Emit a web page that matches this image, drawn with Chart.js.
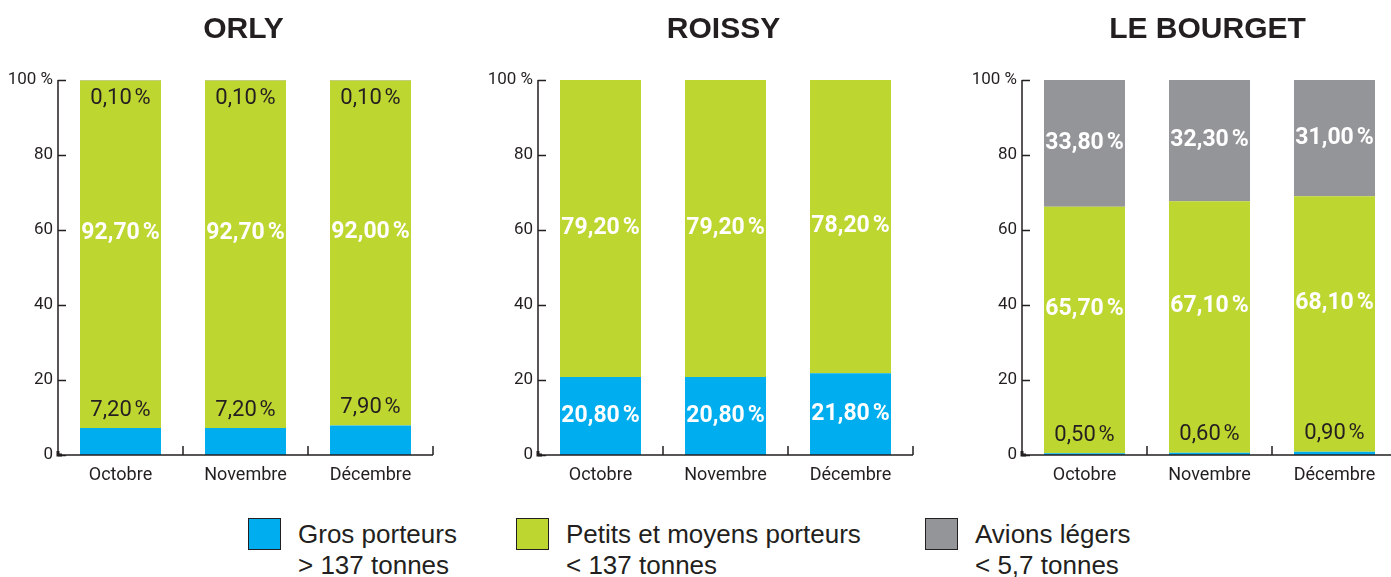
<!DOCTYPE html>
<html>
<head>
<meta charset="utf-8">
<script src="https://cdn.jsdelivr.net/npm/chart.js@4/dist/chart.umd.min.js"></script>
<style>
  html, body { margin: 0; padding: 0; background: #fff; overflow: hidden; }
  body { width: 1391px; height: 577px; position: relative; }
  .panel { position: absolute; top: 0; width: 453px; height: 500px; }
  .legend { position: absolute; top: 518px; font-family: "Liberation Sans", Arial, sans-serif; font-size: 26px; color: #231f20; line-height: 31px; }
  .legend .box { position: absolute; left: 0; top: 0; width: 31px; height: 30px; border: 1.5px solid #231f20; }
  .legend .txt { position: absolute; left: 50px; top: 1px; white-space: nowrap; }
</style>
</head>
<body>
<div class="panel" style="left:0px"><canvas id="orly"></canvas></div>
<div class="panel" style="left:480px"><canvas id="roissy"></canvas></div>
<div class="panel" style="left:964px"><canvas id="bourget"></canvas></div>
<div id="legend"></div>

<script>
// data
const months = ['Octobre', 'Novembre', 'Décembre'];
const seriesNames = ['Gros porteurs', 'Petits et moyens porteurs', 'Avions légers'];
const seriesNotes = ['> 137 tonnes', '< 137 tonnes', '< 5,7 tonnes'];
const seriesColors = ['#00aeef', '#bed630', '#939598'];
const yTickLabels = ['0', '20', '40', '60', '80', '100 %'];

const orlyGros = [7.2, 7.2, 7.9];
const orlyPetits = [92.7, 92.7, 92.0];
const orlyLegers = [0.1, 0.1, 0.1];

const roissyGros = [20.8, 20.8, 21.8];
const roissyPetits = [79.2, 79.2, 78.2];
const roissyLegers = [0, 0, 0];

const bourgetGros = [0.5, 0.6, 0.9];
const bourgetPetits = [65.7, 67.1, 68.1];
const bourgetLegers = [33.8, 32.3, 31.0];

const INK = '#231f20';
const NARROW = 'Roboto, "Liberation Sans", sans-serif';

function fmt(v) {
  return v.toFixed(2).replace('.', ',') + '\u202f%';
}

// title + axis ticks + value labels
const panelPlugin = {
  id: 'panelPlugin',
  afterDraw(chart) {
    const ctx = chart.ctx;
    const area = chart.chartArea;
    const x = chart.scales.x, y = chart.scales.y;
    ctx.save();

    // title
    ctx.fillStyle = INK;
    ctx.font = 'bold 30px "Liberation Sans", Arial, sans-serif';
    ctx.textAlign = 'center';
    ctx.textBaseline = 'alphabetic';
    ctx.fillText(chart.options.plugins.panelTitle, (area.left + area.right) / 2 - 2, 38);

    // axes
    ctx.strokeStyle = INK;
    ctx.lineWidth = 1.5;
    ctx.beginPath();
    ctx.moveTo(area.left, area.top);
    ctx.lineTo(area.left, area.bottom);
    ctx.lineTo(area.right, area.bottom);
    y.ticks.forEach(t => {
      const py = Math.round(y.getPixelForValue(t.value)) + 0.5;
      ctx.moveTo(area.left, py);
      ctx.lineTo(area.left + 8, py);
    });
    const step = (x.getPixelForValue(1) - x.getPixelForValue(0));
    for (let i = 0; i < months.length; i++) {
      const px = x.getPixelForValue(i) + step / 2;
      ctx.moveTo(px, area.bottom);
      ctx.lineTo(px, area.bottom - 9);
    }
    ctx.stroke();
    ctx.lineWidth = 3;
    ctx.beginPath();
    ctx.moveTo(area.left, area.bottom - 4);
    ctx.lineTo(area.left, area.bottom);
    ctx.lineTo(area.left + 4, area.bottom);
    ctx.stroke();

    // value labels
    ctx.textAlign = 'center';
    ctx.textBaseline = 'middle';
    const sets = chart.data.datasets;
    for (let j = 0; j < months.length; j++) {
      const bars = sets.map((d, i) => chart.getDatasetMeta(i).data[j]);
      const vals = sets.map(d => d.data[j]);
      let smallBottomTop = null;
      vals.forEach((v, i) => {
        if (!v) return;
        const bar = bars[i];
        const top = Math.min(bar.y, bar.base), bottom = Math.max(bar.y, bar.base);
        if (v < 10) {
          ctx.fillStyle = INK;
          ctx.font = '22px ' + NARROW;
          ctx.letterSpacing = '-0.8px';
          let cy;
          if (i === 0) { cy = top - 18; smallBottomTop = cy - 24; }
          else cy = bottom + 18;
          ctx.fillText(fmt(v), bar.x, cy);
        } else {
          ctx.fillStyle = '#ffffff';
          ctx.font = 'bold 23px ' + NARROW;
          ctx.letterSpacing = '-0.8px';
          const lo = (i === 1 && smallBottomTop !== null) ? smallBottomTop : bottom;
          ctx.fillText(fmt(v), bar.x, (top + lo) / 2);
        }
      });
    }
    ctx.restore();
  }
};

function makePanel(id, title, gros, petits, legers) {
  const values = [gros, petits, legers];
  return new Chart(document.getElementById(id), {
    type: 'bar',
    data: {
      labels: months,
      datasets: seriesNames.map((name, i) => ({
        label: name,
        data: values[i],
        backgroundColor: seriesColors[i],
        borderWidth: 0,
        categoryPercentage: 1,
        barPercentage: 0.648
      }))
    },
    options: {
      responsive: false,
      animation: false,
      events: [],
      layout: { padding: { top: 80, right: 20, left: 0, bottom: 0 } },
      plugins: {
        legend: { display: false },
        tooltip: { enabled: false },
        panelTitle: title
      },
      scales: {
        x: {
          stacked: true,
          grid: { display: false, drawTicks: false },
          border: { display: false },
          ticks: { color: INK, font: { family: NARROW, size: 18 }, padding: 10 },
          afterFit: s => { s.height = 45; }
        },
        y: {
          stacked: true,
          min: 0,
          max: 100,
          grid: { display: false, drawTicks: false },
          border: { display: false },
          ticks: {
            stepSize: 20,
            color: INK,
            padding: 5,
            font: { family: NARROW, size: 17 },
            callback: (v, i) => yTickLabels[i]
          },
          afterFit: s => { s.width = 58; }
        }
      }
    },
    plugins: [panelPlugin]
  });
}

['orly', 'roissy', 'bourget'].forEach(id => {
  const c = document.getElementById(id);
  c.width = 453; c.height = 500;
});

makePanel('orly', 'ORLY', orlyGros, orlyPetits, orlyLegers);
makePanel('roissy', 'ROISSY', roissyGros, roissyPetits, roissyLegers);
makePanel('bourget', 'LE BOURGET', bourgetGros, bourgetPetits, bourgetLegers);

// legend
const legendX = [248, 516, 925];
const legend = document.getElementById('legend');
seriesNames.forEach((name, i) => {
  const item = document.createElement('div');
  item.className = 'legend';
  item.style.left = legendX[i] + 'px';
  const box = document.createElement('div');
  box.className = 'box';
  box.style.background = seriesColors[i];
  const txt = document.createElement('div');
  txt.className = 'txt';
  txt.textContent = name;
  txt.appendChild(document.createElement('br'));
  txt.appendChild(document.createTextNode(seriesNotes[i]));
  item.appendChild(box);
  item.appendChild(txt);
  legend.appendChild(item);
});
</script>
</body>
</html>
